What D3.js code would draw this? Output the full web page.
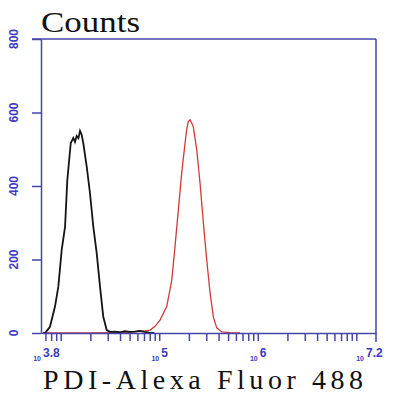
<!DOCTYPE html>
<html><head><meta charset="utf-8">
<script src="https://cdn.jsdelivr.net/npm/d3@7"></script>
<style>body{margin:0;background:#fff}svg{display:block}</style>
</head><body>
<svg id="c" width="400" height="400"></svg>
<script>
// log10 of fluorescence intensity and counts
const blackLogX = [3.82,3.841,3.891,3.942,3.976,4.010,4.044,4.067,4.102,4.128,4.145,4.162,4.180,4.196,4.212,4.229,4.264,4.297,4.331,4.365,4.399,4.432,4.467,4.500,4.55,4.60,4.65,4.70,4.75,4.80,4.85,4.90,4.95];
const blackCounts = [0,0,17,72,126,226,289,416,517,531,520,536,530,550,540,517,453,381,289,218,126,44,8,3,4,2,5,3,4,6,3,1,0];
const redLogX = [3.82,4.0,4.3,4.6,4.70,4.754,4.805,4.856,4.907,4.957,5.008,5.076,5.127,5.160,5.194,5.228,5.262,5.278,5.294,5.313,5.328,5.346,5.381,5.414,5.448,5.482,5.516,5.549,5.584,5.635,5.72,5.82];
const redCounts = [0,0,0,1,1,3,5,6,8,18,35,72,144,235,335,435,517,552,575,580,572,561,498,408,299,199,109,44,14,3,1,0];
const yTicks = [0,200,400,600,800];
const xLabelExps = ["3.8","5","6","7.2"];
const yTitle = "Counts";
const xTitle = "PDI-Alexa Fluor 488";

const svg = d3.select("#c");
const axisCol = "#4646a8", labCol = "#3a3ac4";
const x = d3.scaleLog().domain([Math.pow(10,3.8), Math.pow(10,7.2)]).range([41,376]);
const y = d3.scaleLinear().domain([0,800]).range([333,39]);

// minor ticks
const minor = [];
for (let e = 3; e <= 7; e++) for (let m = 1; m <= 9; m++) {
  const v = m*Math.pow(10,e);
  if (v >= x.domain()[0]*1.0001 && v <= x.domain()[1]) minor.push(v);
}

// curves
const line = d3.line().x(d => x(Math.pow(10,d[0]))).y(d => y(d[1])).curve(d3.curveLinear);
svg.append("path").datum(redLogX.map((v,i)=>[v,redCounts[i]]))
  .attr("d", line).attr("fill","none").attr("stroke","#d23a3a").attr("stroke-width",1.3);
svg.append("path").datum(blackLogX.map((v,i)=>[v,blackCounts[i]]))
  .attr("d", line).attr("fill","none").attr("stroke","#151515").attr("stroke-width",1.8);

// frame top/right
svg.append("line").attr("x1",32).attr("x2",x.range()[1]).attr("y1",y(800)).attr("y2",y(800))
  .attr("stroke",axisCol).attr("stroke-width",1.5);
svg.append("line").attr("x1",x.range()[1]).attr("x2",x.range()[1]).attr("y1",y(800)).attr("y2",y(0)+9)
  .attr("stroke",axisCol).attr("stroke-width",1.5);

// x axis
const gx = svg.append("g").attr("transform",`translate(0,${y(0)})`)
  .call(d3.axisBottom(x).tickValues(minor).tickFormat("").tickSize(8).tickSizeOuter(0));
gx.selectAll("path,line").attr("stroke",axisCol).attr("stroke-width",1.5);

// y axis
const gy = svg.append("g").attr("transform",`translate(${x.range()[0]},0)`)
  .call(d3.axisLeft(y).tickValues(yTicks).tickFormat("").tickSize(9).tickSizeOuter(0));
gy.selectAll("path,line").attr("stroke",axisCol).attr("stroke-width",1.5);

// y labels rotated
svg.selectAll("text.yl").data(yTicks).enter().append("text")
  .attr("class","yl")
  .attr("transform", d => `translate(18,${y(d)}) rotate(-90)`)
  .attr("text-anchor","middle")
  .attr("font-family","Liberation Sans, Arial, sans-serif")
  .attr("font-size",12).attr("font-weight","bold")
  .attr("fill",labCol).text(d => d);

// x labels: 10^exp (separate texts, base ends at tick, exponent starts right after)
xLabelExps.forEach(ex => {
  const px = Math.min(x(Math.pow(10,+ex)), 364);
  svg.append("text").attr("x", px).attr("y",361)
    .attr("text-anchor","end").attr("fill",labCol)
    .attr("font-family","Liberation Sans, Arial, sans-serif").attr("font-weight","bold")
    .attr("font-size",7).text("10");
  svg.append("text").attr("x", px + 2).attr("y",357)
    .attr("text-anchor","start").attr("fill",labCol)
    .attr("font-family","Liberation Sans, Arial, sans-serif").attr("font-weight","bold")
    .attr("font-size",12).text(ex);
});

// titles
svg.append("text").attr("x",41).attr("y",32).attr("font-family","Liberation Serif, serif")
  .attr("font-size",29).attr("fill","#111")
  .attr("textLength",99).attr("lengthAdjust","spacingAndGlyphs").text(yTitle);
svg.append("text").attr("x",43).attr("y",389).attr("font-family","Liberation Serif, serif")
  .attr("font-size",28).attr("fill","#111")
  .attr("textLength",320).attr("lengthAdjust","spacing").text(xTitle);
</script>
</body></html>
